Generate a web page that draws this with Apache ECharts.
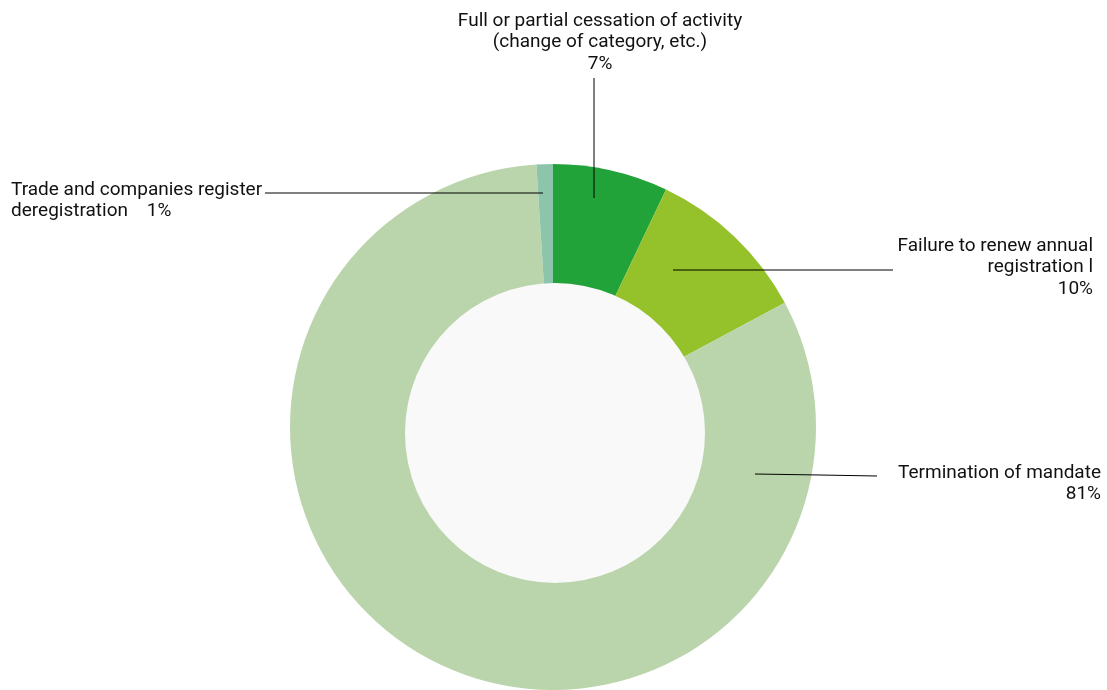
<!DOCTYPE html>
<html>
<head>
<meta charset="utf-8">
<script src="https://cdn.jsdelivr.net/npm/echarts@6/dist/echarts.min.js"></script>
<style>
html,body{margin:0;padding:0;background:#fff;}
#chart{width:1107px;height:690px;}
</style>
</head>
<body>
<div id="chart"></div>
<script>
const categories = [
  'Full or partial cessation of activity\n(change of category, etc.)',
  'Failure to renew annual\nregistration l',
  'Termination of mandate',
  'Trade and companies register\nderegistration'
];
const values = [7, 10, 81, 1];
const pctLabels = ['7%', '10%', '81%', '1%'];
const colors = ['#22a33a', '#95c12b', '#bad5ab', '#8cc5ab'];

// label layout (text anchor, alignment, leader line)
const labelSpots = [
  {x: 600, y: 10, align: 'center', line: [[594, 198], [594, 140], [594, 78]]},
  {x: 1093, y: 235, align: 'right', line: [[673, 270], [780, 270], [893, 270]]},
  {x: 1101, y: 462, align: 'right', line: [[755, 474], [820, 475], [877, 476]]},
  {x: 11, y: 179, align: 'left', line: [[543, 193], [400, 193], [265, 193]]}
];

const FONT = 'Roboto, "Noto Sans", sans-serif';

const chart = echarts.init(document.getElementById('chart'));
const pieData = (withStyle) => categories.map((c, i) => ({
  name: c,
  value: values[i],
  itemStyle: {color: withStyle ? colors[i] : 'rgba(0,0,0,0)'},
  label: {
    formatter: i === 3 ? c + '    ' + pctLabels[i] : c + '\n' + pctLabels[i],
    align: labelSpots[i].align
  }
}));

chart.setOption({
  animation: false,
  backgroundColor: '#ffffff',
  series: [
    {
      type: 'pie',
      z: 1,
      silent: true,
      center: [553, 427],
      radius: [0, 263],
      startAngle: 90,
      clockwise: true,
      label: {show: false},
      labelLine: {show: false},
      data: pieData(true)
    },
    {
      type: 'pie',
      z: 2,
      silent: true,
      center: [555, 433],
      radius: [0, 150],
      label: {show: false},
      labelLine: {show: false},
      data: [{value: 1, itemStyle: {color: '#f9f9f9'}}]
    },
    {
      type: 'pie',
      z: 3,
      silent: true,
      center: [553, 427],
      radius: [0, 263],
      startAngle: 90,
      clockwise: true,
      avoidLabelOverlap: false,
      data: pieData(false),
      label: {
        show: true,
        position: 'outside',
        fontFamily: FONT,
        fontSize: 19,
        lineHeight: 21.5,
        color: '#111111'
      },
      labelLine: {
        show: true,
        lineStyle: {color: '#000000', width: 1}
      },
      labelLayout: function (params) {
        const s = labelSpots[params.dataIndex];
        return {
          x: s.x,
          y: s.y,
          align: s.align,
          verticalAlign: 'top',
          labelLinePoints: s.line
        };
      }
    }
  ]
});
</script>
</body>
</html>
